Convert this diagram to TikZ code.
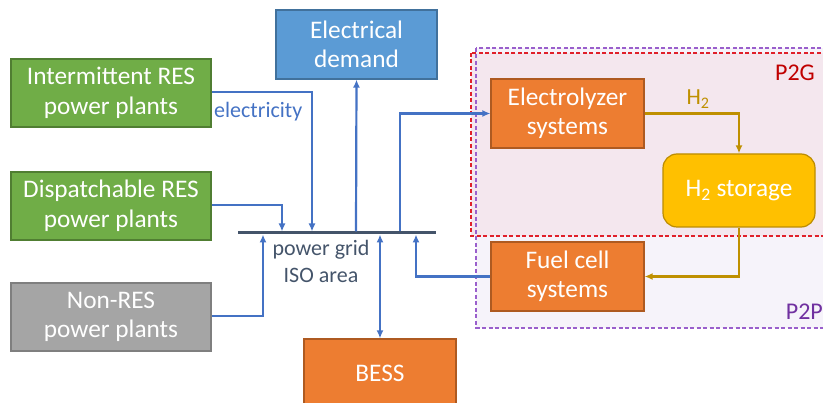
\documentclass[tikz,border=0pt]{standalone}
\usepackage{fontspec}
\setmainfont{Carlito}
\usetikzlibrary{arrows.meta}
\definecolor{grn}{HTML}{70AD47}
\definecolor{grnb}{HTML}{507E32}
\definecolor{gry}{HTML}{A5A5A5}
\definecolor{gryb}{HTML}{7F7F7F}
\definecolor{blu}{HTML}{5B9BD5}
\definecolor{blub}{HTML}{41719C}
\definecolor{org}{HTML}{ED7D31}
\definecolor{orgb}{HTML}{AE5A21}
\definecolor{yel}{HTML}{FFC000}
\definecolor{yelb}{HTML}{BC8C00}
\definecolor{arr}{HTML}{4472C4}
\definecolor{gold}{HTML}{BF9000}
\definecolor{busc}{HTML}{44546A}
\definecolor{pinkf}{HTML}{F4E7EE}
\definecolor{lavf}{HTML}{F6F3FA}
\definecolor{redd}{HTML}{E0202A}
\definecolor{purd}{HTML}{9A5FCC}
\definecolor{p2g}{HTML}{C00000}
\definecolor{p2p}{HTML}{7030A0}
\tikzset{
  x=1pt, y=-1pt,
  blk/.style={draw, line width=1.2pt, text=white, align=center, inner sep=0pt,
    font=\fontsize{25.3}{29.5}\selectfont},
  conn/.style={draw=arr, line width=2.2pt, -{Latex[length=8pt,width=7pt]}},
  hconn/.style={draw=gold, line width=2.2pt, -{Latex[length=8pt,width=7pt]}},
}
\begin{document}
\begin{tikzpicture}
\useasboundingbox (0,0) rectangle (823,403);
% regions
\fill[lavf] (476,48) rectangle (830,328);
\fill[pinkf] (471,53) rectangle (830,236);
\draw[purd, dash pattern=on 4pt off 2.5pt, line width=1.2pt] (476,48) rectangle (830,328);
\draw[redd, dash pattern=on 4pt off 2.5pt, line width=1.2pt] (471,53) rectangle (830,236);
\node[anchor=east, text=p2g, font=\fontsize{24}{28}\selectfont, inner sep=0pt] (lp2g) at (815,73) {P2G};
\node[anchor=east, text=p2p, font=\fontsize{24}{28}\selectfont, inner sep=0pt] (lp2p) at (823,312) {P2P};
% boxes
\node[blk, fill=grn, draw=grnb, minimum width=200pt, minimum height=68pt] (int) at (111,93) {Intermittent RES\\power plants};
\node[blk, fill=grn, draw=grnb, minimum width=200pt, minimum height=68pt] (dis) at (111,206) {Dispatchable RES\\power plants};
\node[blk, fill=gry, draw=gryb, minimum width=200pt, minimum height=68pt] (non) at (111,317) {Non-RES\\power plants};
\node[blk, fill=blu, draw=blub, minimum width=161pt, minimum height=69pt] (dem) at (356.5,44.5) {Electrical\\demand};
\node[blk, fill=org, draw=orgb, minimum width=152pt, minimum height=68pt] (bess) at (380,373) {BESS};
\node[blk, fill=org, draw=orgb, minimum width=153pt, minimum height=69pt] (el) at (567.5,113.5) {Electrolyzer\\systems};
\node[blk, fill=org, draw=orgb, minimum width=153pt, minimum height=69pt] (fc) at (567.5,276.5) {Fuel cell\\systems};
\node[blk, fill=yel, draw=yelb, rounded corners=14pt, minimum width=152pt, minimum height=73pt] (st) at (739,190.5) {H\textsubscript{2} storage};
% bus
\node[fill=busc, inner sep=0pt, minimum width=198pt, minimum height=3pt] (bus) at (337,233) {};
\coordinate (b1) at (312,231.5);
\coordinate (b2) at (282,231.5);
\coordinate (b3) at (263,234.5);
\coordinate (b4) at (356,231.5);
\coordinate (b5) at (380,234.5);
\coordinate (b6) at (400,231.5);
\coordinate (b7) at (416,234.5);
% labels
\node[anchor=west, text=arr, font=\fontsize{22}{24}\selectfont, inner sep=0pt] (lel) at (214,112) {electricity};
\node[text=busc, align=center, font=\fontsize{22}{27}\selectfont, inner sep=0pt] (lbus) at (321,261.5) {power grid\\ISO area};
\node[text=gold, font=\fontsize{23}{24}\selectfont, inner sep=0pt] (lh2) at (698,99) {H\textsubscript{2}};
% connectors
\draw[conn] (int.east |- 0,92) -| (b1);
\draw[conn] (dis.east |- 0,205) -| (b2);
\draw[conn] (non.east |- 0,316) -| (b3);
\draw[conn] (b4) -- (dem.south);
\draw[draw=arr, line width=2.2pt, {Latex[length=8pt,width=7pt]}-{Latex[length=8pt,width=7pt]}] (b5) -- (bess.north);
\draw[conn] (b6) |- (el.west);
\draw[conn] (fc.west) -| (b7);
\draw[hconn] (el.east) -| (st.north);
\draw[hconn] (st.south) |- (fc.east);
\end{tikzpicture}
\end{document}
